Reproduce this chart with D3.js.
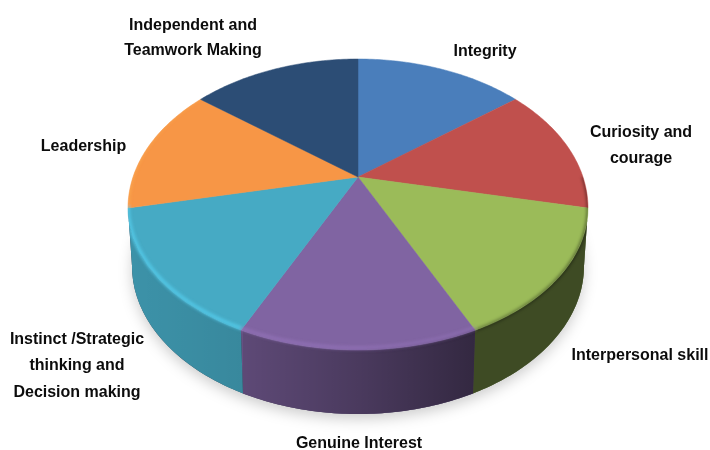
<!DOCTYPE html>
<html>
<head>
<meta charset="utf-8">
<script src="https://cdn.jsdelivr.net/npm/d3@7"></script>
<style>
  html, body { margin: 0; background: #fff; }
  svg { display: block; }
  text { font-family: "Liberation Sans", Arial, sans-serif; font-weight: bold; font-size: 16px; fill: #0c0c0c; text-anchor: middle; }
</style>
</head>
<body>
<svg id="chart" width="710" height="450"></svg>
<script>
// Share of each attribute, clockwise from twelve o'clock
const categories = ["Integrity", "Curiosity and courage", "Interpersonal skill", "Genuine Interest",
  "Instinct /Strategic thinking and Decision making", "Leadership", "Independent and Teamwork Making"];
const shares = [12, 13, 16.5, 17, 16.5, 13, 12];
const sliceColors = ["#4a7ebb", "#c0504d", "#9bbb59", "#8064a2", "#46aac4", "#f79646", "#2c4d75"];
// How strongly the bevel of each slice catches the light
const bevelGlow = [0, 0, 0, .5, .8, .4, 0];

// Wrapped label lines, and where each block sits (centre x, baseline y of each line)
const labelLines = [["Integrity"], ["Curiosity and", "courage"], ["Interpersonal skill"], ["Genuine Interest"],
  ["Instinct /Strategic", "thinking and", "Decision making"], ["Leadership"], ["Independent and", "Teamwork Making"]];
const labelX = [485, 641, 640, 359, 77, 83.5, 193];
const labelY = [[56], [137, 163], [360], [448], [344, 370, 397], [151], [30, 55]];

const svg = d3.select("#chart");
const deg = Math.PI / 180;

// Unit-circle to screen scales for the top face and for the base of the drum.
// The near half of the top face is foreshortened a little more than the far half.
const topX = d3.scaleLinear([-1, 1], [128, 588]);
const topY = d3.scaleLinear([-1, 0, 1], [59, 208, 350]);
const baseX = d3.scaleLinear([-1, 1], [132, 584]);
const baseY = d3.scaleLinear([-1, 1], [118, 414]);
const apex = [358, 177]; // perspective moves the hub above the ellipse centre

const topPoint = a => [topX(Math.sin(a)), topY(-Math.cos(a))];
const basePoint = a => [baseX(Math.sin(a)), baseY(-Math.cos(a))];
const sweep = (a0, a1) => d3.range(0, 61).map(i => a0 + (a1 - a0) * i / 60);
const line = d3.line();

const arcs = d3.pie().sort(null).value(d => d)(shares);

const defs = svg.append("defs");
const blur = (id, sd) => defs.append("filter").attr("id", id)
  .attr("x", "-20%").attr("y", "-20%").attr("width", "140%").attr("height", "140%")
  .append("feGaussianBlur").attr("stdDeviation", sd);
blur("soft", 7);
blur("rimSoft", 1.4);

const xGradient = (id, stops) => {
  const g = defs.append("linearGradient").attr("id", id)
    .attr("gradientUnits", "userSpaceOnUse")
    .attr("x1", 128).attr("x2", 588).attr("y1", 0).attr("y2", 0);
  stops.forEach(([x, color, op]) => g.append("stop")
    .attr("offset", (x - 128) / 460).attr("stop-color", color).attr("stop-opacity", op));
};
// Wall darkens from left to right
xGradient("wallShade", [[128, "#000", .14], [243, "#000", .2], [243, "#000", .27], [358, "#000", .42], [475, "#000", .6], [588, "#000", .6]]);
// Right-hand side of the bevel falls into shadow
xGradient("rimDark", [[330, "#000", 0], [475, "#000", .3], [588, "#000", .4]]);

// Ground shadow
svg.append("path")
  .attr("d", line(sweep(0, 2 * Math.PI).map(basePoint)) + "Z")
  .attr("transform", "translate(0,5)")
  .attr("fill", "#000").attr("fill-opacity", .2)
  .attr("filter", "url(#soft)");

// Visible wall of each slice, limited to the front half of the rim
const front = arcs
  .map((d, i) => ({ i, a0: Math.max(d.startAngle, 90 * deg), a1: Math.min(d.endAngle, 270 * deg) }))
  .filter(d => d.a1 > d.a0);
const wallPath = d => {
  const angles = sweep(d.a0, d.a1);
  return line(angles.map(topPoint).concat(angles.slice().reverse().map(basePoint))) + "Z";
};
svg.append("path")
  .attr("d", wallPath({ a0: 90 * deg, a1: 270 * deg }))
  .attr("fill", "#3a3a4a");
svg.append("g").selectAll("path").data(front).join("path")
  .attr("d", wallPath).attr("fill", d => sliceColors[d.i]);
svg.append("g").selectAll("path").data(front).join("path")
  .attr("d", wallPath).attr("fill", "url(#wallShade)");

// Top face wedges
svg.append("g").selectAll("path").data(arcs).join("path")
  .attr("d", d => line([apex].concat(sweep(d.startAngle, d.endAngle).map(topPoint))) + "Z")
  .attr("fill", (d, i) => sliceColors[i])
  .attr("stroke", (d, i) => sliceColors[i]).attr("stroke-width", .5);

// Keeps the bevel from bleeding past the drum's outline
const outline = defs.append("clipPath").attr("id", "drum");
outline.append("path").attr("d", line(sweep(0, 2 * Math.PI).map(topPoint)) + "Z");
outline.append("path").attr("d", wallPath({ a0: 90 * deg, a1: 270 * deg }));

// Soft bevel along the rim: shadow on the right, a lit band in each slice's own hue on the left
const rim = svg.append("g").attr("clip-path", "url(#drum)")
  .append("g").attr("fill", "none").attr("filter", "url(#rimSoft)");
rim.append("path")
  .attr("d", line(sweep(78 * deg, 280 * deg).map(topPoint)))
  .attr("stroke", "url(#rimDark)").attr("stroke-width", 3);
rim.selectAll("path.glow").data(arcs.filter((d, i) => bevelGlow[i] > 0)).join("path")
  .attr("class", "glow")
  .attr("d", d => line(sweep(d.startAngle, d.endAngle).map(topPoint)))
  .attr("transform", "translate(0,-2)")
  .attr("stroke", d => d3.color(sliceColors[d.index]).brighter(.5))
  .attr("stroke-opacity", d => bevelGlow[d.index])
  .attr("stroke-width", 4);

// Labels
const labels = svg.append("g").selectAll("text").data(labelLines).join("text")
  .attr("x", (d, i) => labelX[i]);
labels.selectAll("tspan").data((d, i) => d.map((t, j) => ({ t, x: labelX[i], y: labelY[i][j] })))
  .join("tspan").attr("x", d => d.x).attr("y", d => d.y).text(d => d.t);
</script>
</body>
</html>
